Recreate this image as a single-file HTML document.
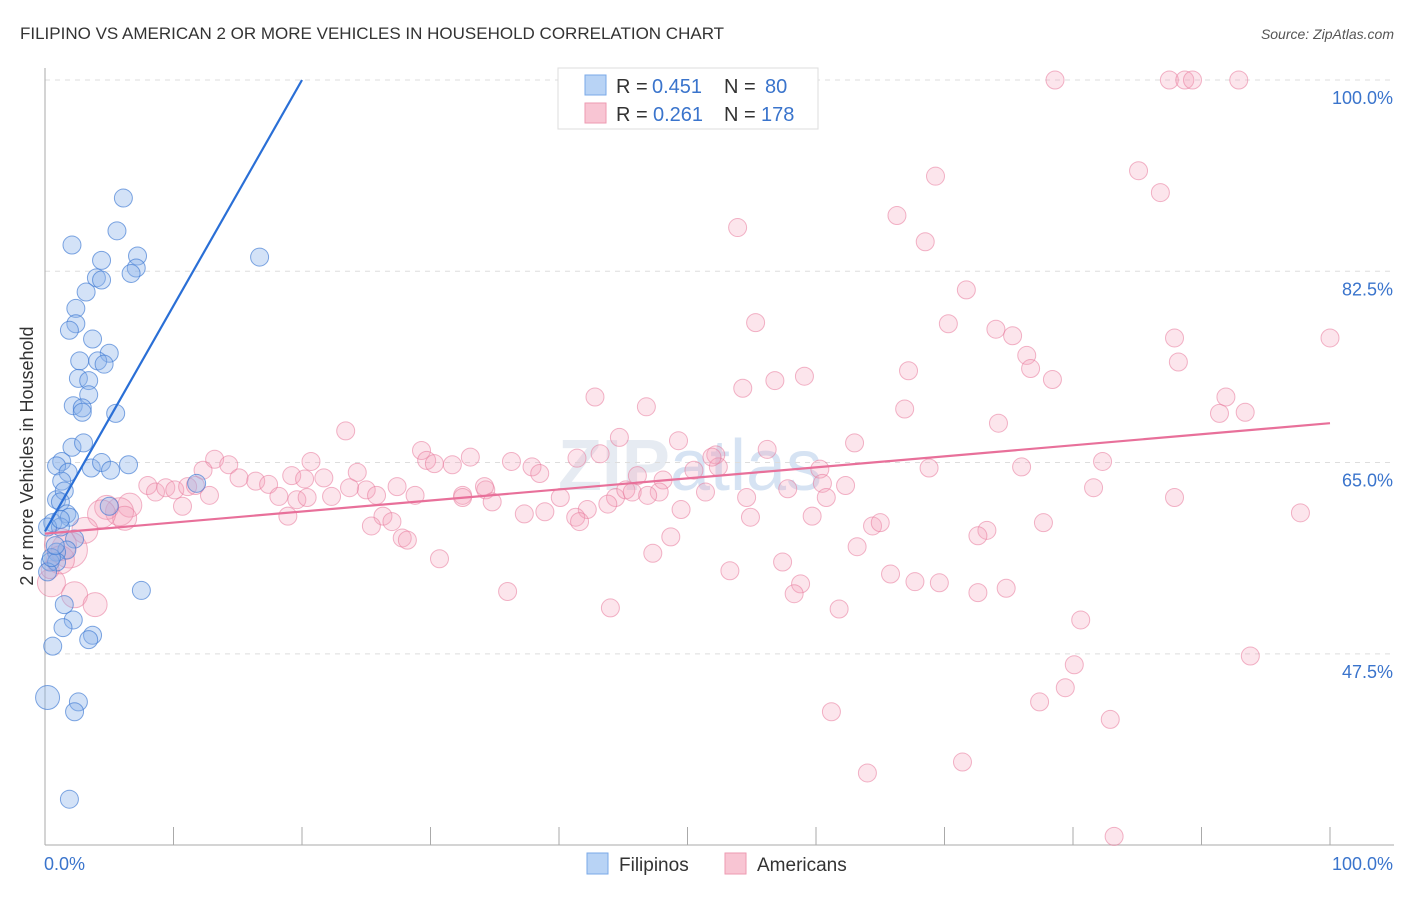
<!DOCTYPE html>
<html><head><meta charset="utf-8">
<style>
html,body{margin:0;padding:0;background:#fff;}
body{width:1406px;height:892px;position:relative;overflow:hidden;font-family:"Liberation Sans",sans-serif;}
svg text{font-family:"Liberation Sans",sans-serif;}
</style></head>
<body>
<svg id="chart" width="1406" height="892" viewBox="0 0 1406 892" xmlns="http://www.w3.org/2000/svg">
<text x="20" y="39" font-size="17" fill="#333">FILIPINO VS AMERICAN 2 OR MORE VEHICLES IN HOUSEHOLD CORRELATION CHART</text>
<text x="1394" y="39" font-size="14" fill="#555" font-style="italic" text-anchor="end">Source: ZipAtlas.com</text>
<text x="690" y="490" font-size="72" fill="#e6ebf2" text-anchor="middle" font-family="Liberation Serif" font-weight="bold">ZIP<tspan fill="#d6e3f3" font-family="Liberation Sans" font-weight="normal">atlas</tspan></text>
<g id="grid"></g>
<g id="axes"></g>
<g id="pts"></g>
<g id="lines"></g>
<text transform="translate(33,456) rotate(-90)" font-size="18" fill="#333" text-anchor="middle">2 or more Vehicles in Household</text>
<g>
<rect x="558" y="68" width="260" height="61" fill="#fff" stroke="#ddd"/>
<rect x="585" y="75" width="21" height="20" fill="#b8d3f5" stroke="#7aaae8"/>
<rect x="585" y="103" width="21" height="20" fill="#f8c5d3" stroke="#ee9ab2"/>
<text x="616" y="93" font-size="20" fill="#333">R =</text>
<text x="652" y="93" font-size="20" fill="#3a74cc">0.451</text>
<text x="724" y="93" font-size="20" fill="#333">N =</text>
<text x="765" y="93" font-size="20" fill="#3a74cc">80</text>
<text x="616" y="121" font-size="20" fill="#333">R =</text>
<text x="653" y="121" font-size="20" fill="#3a74cc">0.261</text>
<text x="724" y="121" font-size="20" fill="#333">N =</text>
<text x="761" y="121" font-size="20" fill="#3a74cc">178</text>
</g>
<g>
<rect x="587" y="853" width="21" height="21" fill="#b8d3f5" stroke="#7aaae8"/>
<text x="619" y="871" font-size="19" fill="#333">Filipinos</text>
<rect x="725" y="853" width="21" height="21" fill="#f8c5d3" stroke="#ee9ab2"/>
<text x="757" y="871" font-size="19" fill="#333">Americans</text>
</g>
</svg>
<script>
const yTicks=[100,82.5,65,47.5];
const xTickLabels=["0.0%","100.0%"];
const blueX=[6.1,5.6,2.1,4.4,7.2,4.0,4.4,7.1,6.7,16.7,3.2,2.4,2.4,1.9,3.7,5.0,2.7,4.1,4.6,2.6,3.4,3.4,2.2,2.9,2.9,5.5,2.1,3.0,1.3,0.9,3.6,4.4,6.5,5.1,1.8,1.3,0.9,1.5,1.2,1.7,1.9,0.6,1.2,0.2,2.3,1.7,0.9,0.4,0.9,0.2,7.5,1.5,2.2,1.4,3.7,3.4,0.6,0.2,2.6,2.3,1.9,11.8,5.0,0.5,0.8,1.2];
const blueY=[89.2,86.2,84.9,83.5,83.9,81.9,81.7,82.8,82.3,83.8,80.6,79.1,77.7,77.1,76.3,75.0,74.3,74.3,74.0,72.7,72.5,71.2,70.2,70.0,69.6,69.5,66.4,66.8,65.1,64.7,64.5,65.0,64.8,64.3,64.1,63.3,61.6,62.4,61.4,60.3,60.0,59.5,59.1,59.1,58.0,57.0,56.8,55.9,55.9,55.0,53.3,52.0,50.6,49.9,49.2,48.8,48.2,43.5,43.1,42.2,34.2,63.1,61.0,56.3,57.4,59.8];
const blueR=blueX.map(()=>9);
blueR[57]=12;
const pinkPx=[[1055,80],[1170,80],[1185,80],[1193,80],[1239,80],[1139,171],[1160,193],[936,176],[897,216],[737,228],[925,242],[966,290],[756,323],[948,324],[996,329],[1013,336],[1175,338],[1330,338],[1027,355],[1031,369],[1179,362],[909,371],[805,376],[775,381],[743,388],[1052,379],[595,397],[1226,397],[1220,413],[1245,412],[905,409],[999,423],[647,407],[346,431],[620,437],[679,441],[767,449],[855,443],[421,450],[214,459],[229,465],[311,462],[427,460],[434,464],[452,465],[470,457],[512,461],[532,467],[540,473],[577,458],[600,454],[637,476],[663,480],[694,470],[716,455],[718,467],[712,457],[820,469],[823,483],[846,486],[929,468],[1021,467],[1102,462],[203,470],[239,478],[256,481],[269,484],[292,476],[304,479],[324,478],[357,472],[366,490],[397,487],[462,495],[486,490],[485,487],[560,497],[587,510],[615,497],[626,490],[632,492],[659,492],[705,492],[747,497],[788,489],[826,498],[1094,488],[1175,498],[210,495],[148,485],[156,492],[166,488],[175,490],[187,487],[195,485],[183,506],[279,496],[297,500],[307,497],[332,496],[350,488],[376,495],[415,495],[462,497],[492,502],[524,514],[545,512],[576,517],[580,522],[608,504],[648,495],[681,510],[750,517],[812,516],[873,526],[880,523],[987,530],[978,536],[1043,523],[1300,513],[288,516],[383,516],[392,522],[371,526],[402,538],[408,540],[440,559],[653,553],[671,537],[730,571],[782,562],[801,584],[794,594],[857,547],[890,574],[915,582],[940,583],[978,593],[1006,588],[507,592],[610,608],[839,609],[1081,620],[1250,656],[1074,665],[1065,688],[1039,702],[831,712],[1110,719],[867,773],[963,762],[1114,836],[130,505],[120,512],[107,507],[125,518],[101,514],[85,530],[70,550],[60,545],[52,583],[75,595],[95,605],[60,560],[50,570]];
const pinkX=pinkPx.map(p=>+((p[0]-45)/12.85).toFixed(1));
const pinkY=pinkPx.map(p=>+(100-(p[1]-80)/10.93).toFixed(1));
const pinkR=pinkX.map(()=>9);
pinkR[pinkR.length-3]=12;pinkR[pinkR.length-4]=13;pinkR[pinkR.length-5]=14;pinkR[pinkR.length-6]=16;pinkR[pinkR.length-7]=18;pinkR[pinkR.length-8]=13;pinkR[pinkR.length-9]=14;pinkR[pinkR.length-10]=12;pinkR[pinkR.length-11]=12;pinkR[pinkR.length-12]=14;pinkR[pinkR.length-13]=12;pinkR[pinkR.length-2]=14;
const blueTrend=[[0,58.7],[20,100]];
const pinkTrend=[[0,58.5],[100,68.6]];

const NS="http://www.w3.org/2000/svg";
const xS=v=>45+v*12.85;
const yS=v=>80+(100-v)*10.93;
function mk(tag,attrs,parent){const e=document.createElementNS(NS,tag);for(const k in attrs)e.setAttribute(k,attrs[k]);parent.appendChild(e);return e;}
const grid=document.getElementById('grid'),axes=document.getElementById('axes'),pts=document.getElementById('pts'),lines=document.getElementById('lines');
yTicks.forEach(t=>{
 const l=mk('line',{x1:45,x2:1394,y1:yS(t),y2:yS(t),stroke:'#ddd','stroke-dasharray':'5,5'},grid);
 
 
 const tx=mk('text',{x:1393,y:yS(t)+24,'font-size':18,fill:'#3a74cc','text-anchor':'end'},axes);
 tx.textContent=t.toFixed(1)+'%';
 
 
});
mk('line',{x1:45,x2:45,y1:68,y2:845,stroke:'#aaa'},axes);
mk('line',{x1:45,x2:1394,y1:845,y2:845,stroke:'#aaa'},axes);
for(let i=0;i<=10;i++){mk('line',{x1:xS(i*10),x2:xS(i*10),y1:827,y2:845,stroke:'#aaa'},axes);}
const xl0=mk('text',{x:44,y:870,'font-size':18,fill:'#3a74cc'},axes);xl0.textContent=xTickLabels[0];


const xl1=mk('text',{x:1393,y:870,'font-size':18,fill:'#3a74cc','text-anchor':'end'},axes);xl1.textContent=xTickLabels[1];


pinkX.forEach((x,i)=>{
 const c=mk('circle',{cx:xS(x),cy:yS(pinkY[i]),r:pinkR[i],fill:'rgba(244,160,185,0.28)',stroke:'rgba(232,120,155,0.55)','stroke-width':1},pts);
 
 
});
blueX.forEach((x,i)=>{
 const c=mk('circle',{cx:xS(x),cy:yS(blueY[i]),r:blueR[i],fill:'rgba(140,180,235,0.38)',stroke:'rgba(60,120,210,0.65)','stroke-width':1},pts);
 
 
});
const bl=mk('line',{x1:xS(blueTrend[0][0]),y1:yS(blueTrend[0][1]),x2:xS(blueTrend[1][0]),y2:yS(blueTrend[1][1]),stroke:'#2a6fd6','stroke-width':2.2},lines);


const pl=mk('line',{x1:xS(pinkTrend[0][0]),y1:yS(pinkTrend[0][1]),x2:xS(pinkTrend[1][0]),y2:yS(pinkTrend[1][1]),stroke:'#e8709a','stroke-width':2.2},lines);


</script>
</body></html>
